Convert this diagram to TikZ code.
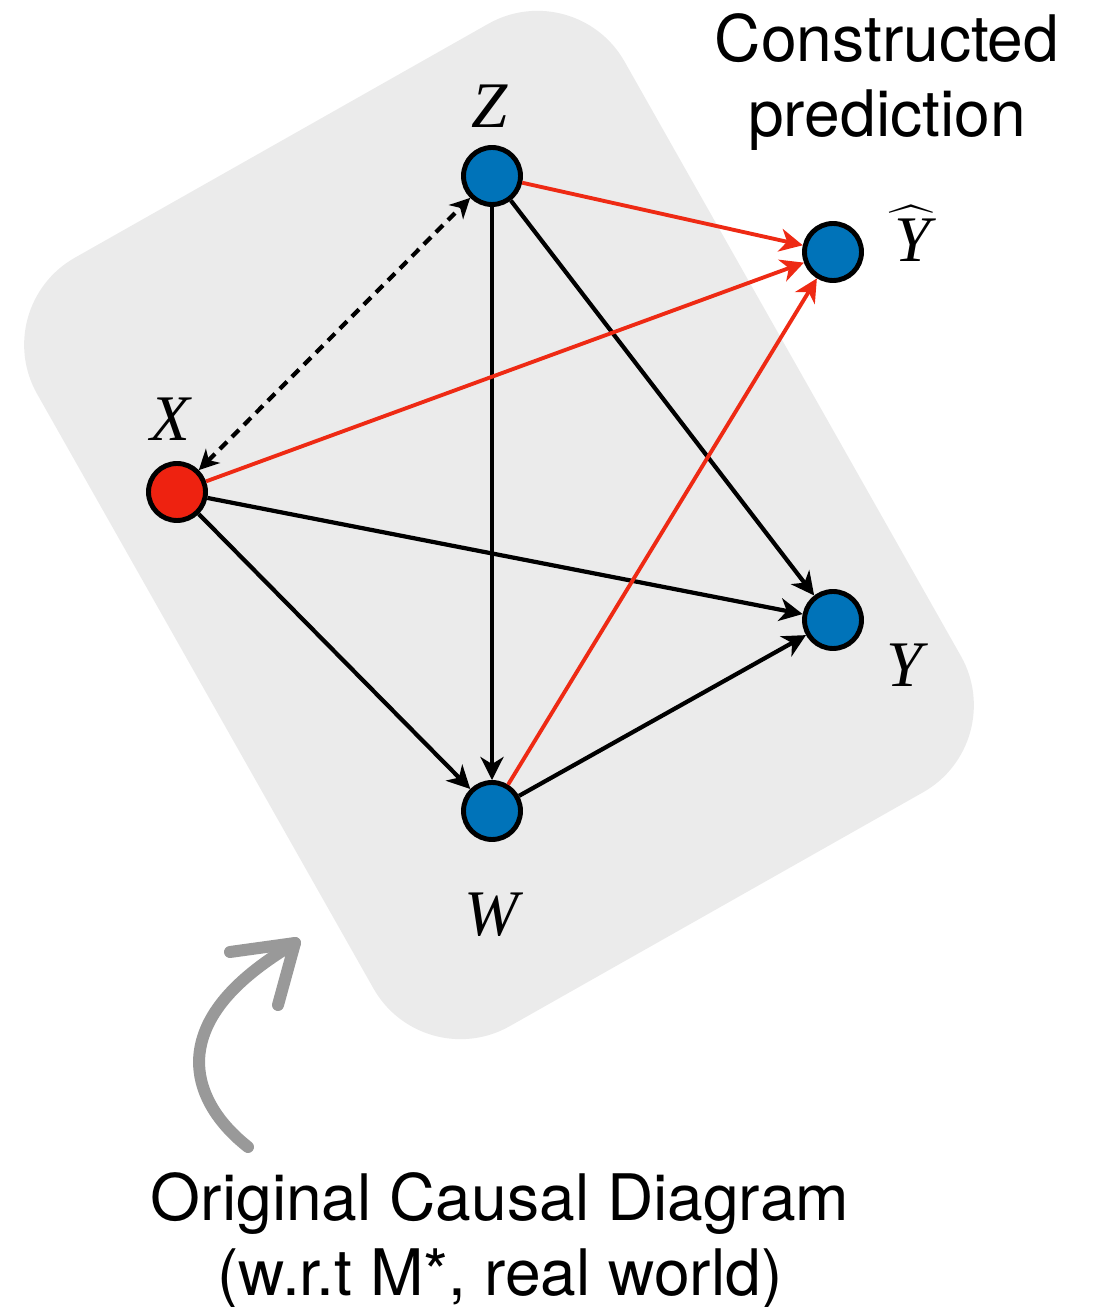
\RequirePackage{fix-cm}
\documentclass[tikz,border=0pt]{standalone}
\usepackage{amsmath}
\usepackage{fontspec}
\setsansfont{TeX Gyre Heros}
\newfontfamily\varfont{Liberation Serif}
\usetikzlibrary{arrows.meta, positioning, calc}
\definecolor{World}{HTML}{EBEBEB}
\definecolor{Node}{HTML}{0073B9}
\definecolor{Treat}{HTML}{EE2210}
\definecolor{Pred}{HTML}{EE2A14}
\definecolor{Pencil}{HTML}{999999}

\begin{document}
\begin{tikzpicture}[
  font=\sffamily,
  varnode/.style={
    circle,
    draw=black,
    line width=2.8pt,
    fill=Node,
    inner sep=0pt,
    minimum size=1.14cm
  },
  varlabel/.style={
    font=\varfont\itshape\fontsize{37}{40}\selectfont
  },
  causal/.style={
    -{Stealth[length=0.46cm,width=0.46cm,inset=0.14cm]},
    line width=2.4pt,
    draw=black
  },
  predict/.style={
    -{Stealth[length=0.46cm,width=0.46cm,inset=0.14cm]},
    line width=2.2pt,
    draw=Pred
  },
  confound/.style={
    {Stealth[length=0.4cm,width=0.4cm,inset=0.12cm]}-{Stealth[length=0.4cm,width=0.4cm,inset=0.12cm]},
    line width=2.4pt,
    dash pattern=on 0.2cm off 0.14cm,
    draw=black
  },
  caption/.style={
    align=center,
    text=black,
    font=\sffamily\fontsize{36.5}{43}\selectfont
  }
]

\useasboundingbox (0,0) rectangle (21.88,26.14);

\node[fill=World, rotate=29.5, rounded corners=2cm, inner sep=0pt,
  minimum width=13.5cm, minimum height=17.66cm] (world) at (9.98,15.64) {};

\node[varnode] (z) at (9.84,22.62) {};
\node[varnode] (yhat) at (16.66,21.10) {};
\node[varnode, fill=Treat] (x) at (3.54,16.30) {};
\node[varnode] (y) at (16.66,13.74) {};
\node[varnode] (w) at (9.84,9.92) {};

\node[varlabel] (zl) at (9.8,24.02) {Z};
\node[varlabel, anchor=base] (yhatl) at (18.22,20.9)
  {$\widehat{\mbox{\varfont\itshape\kern4pt Y\kern2pt}}$};
\node[varlabel] (xl) at (3.4,17.76) {X};
\node[varlabel] (yl) at (18.1,12.84) {Y};
\node[varlabel] (wl) at (9.84,7.84) {W};

\draw[confound] (x) -- (z);
\draw[causal] (z) -- (w);
\draw[causal] (z) -- (y);
\draw[causal] (x) -- (y);
\draw[causal] (x) -- (w);
\draw[causal] (w) -- (y);
\draw[predict] (z) -- (yhat);
\draw[predict] (x) -- (yhat);
\draw[predict] (w) -- (yhat);

\node[caption] (constructed) at (17.74,24.5) {Constructed\\prediction};
\node[caption] (original) at (10.0,1.32) {Original Causal Diagram\\(w.r.t M*, real world)};

\coordinate (tail) at (4.96,3.20);
\coordinate (tip) at (5.9,7.28);
\draw[Pencil, line width=0.24cm, line cap=round, line join=round]
  (tail) .. controls (4.2,3.8) and (3.9,4.5) .. (4.0,5.14)
  .. controls (4.15,6.1) and (5.1,6.8) .. (tip);
\draw[Pencil, line width=0.24cm, line cap=round, line join=round]
  (4.6,7.1) -- (tip) -- (5.56,6.04);

\end{tikzpicture}
\end{document}
